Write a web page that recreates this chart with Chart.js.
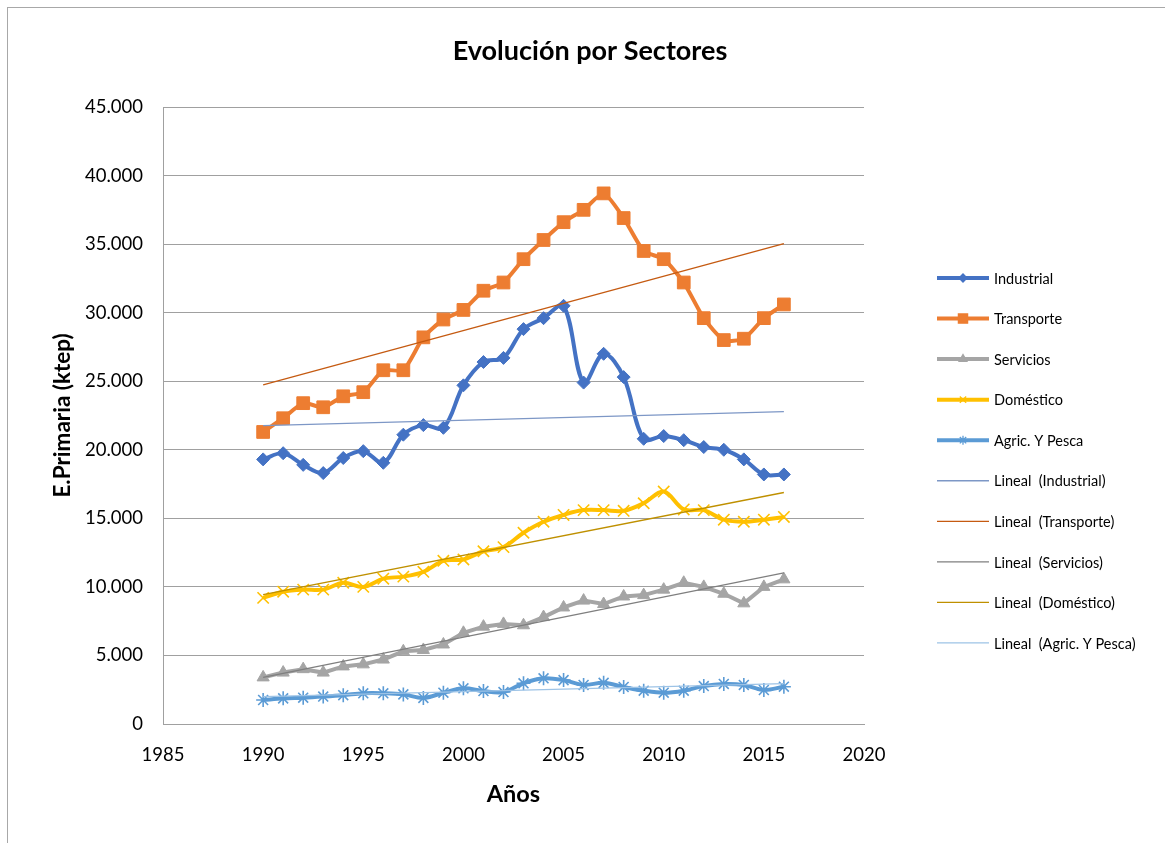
<!DOCTYPE html>
<html lang="es">
<head>
<meta charset="utf-8">
<title>Evolución por Sectores</title>
<script src="https://cdn.jsdelivr.net/npm/chart.js@4.4.1/dist/chart.umd.min.js"></script>
<style>
  html, body { margin: 0; padding: 0; background: #ffffff; }
  #wrap { position: relative; width: 1165px; height: 843px; }
  canvas { display: block; }
</style>
</head>
<body>
<div id="wrap"><canvas id="chart" width="1165" height="843"></canvas></div>
<script>
// Años de la serie
const years = [1990, 1991, 1992, 1993, 1994, 1995, 1996, 1997, 1998, 1999,
               2000, 2001, 2002, 2003, 2004, 2005, 2006, 2007, 2008, 2009,
               2010, 2011, 2012, 2013, 2014, 2015, 2016];

// Consumo de energía primaria por sector (ktep)
const industrial = [19300, 19750, 18900, 18300, 19400, 19900, 19050, 21100, 21800, 21600,
                    24700, 26400, 26700, 28800, 29600, 30500, 24900, 27000, 25300, 20800,
                    21000, 20700, 20200, 20000, 19300, 18200, 18200];
const transporte = [21300, 22300, 23400, 23100, 23900, 24200, 25800, 25800, 28200, 29500,
                    30200, 31600, 32200, 33900, 35300, 36600, 37500, 38700, 36900, 34500,
                    33900, 32200, 29600, 28000, 28100, 29600, 30600];
const servicios  = [3400, 3750, 4000, 3750, 4200, 4350, 4700, 5300, 5400, 5800,
                    6650, 7100, 7300, 7200, 7800, 8500, 9000, 8750, 9300, 9400,
                    9800, 10300, 10000, 9500, 8800, 10000, 10550];
const domestico  = [9200, 9650, 9800, 9800, 10300, 10000, 10600, 10750, 11100, 11900,
                    12000, 12600, 12900, 13950, 14750, 15250, 15600, 15600, 15550, 16100,
                    16950, 15650, 15600, 14900, 14750, 14900, 15100];
const agricPesca = [1750, 1870, 1920, 2000, 2100, 2240, 2240, 2160, 1900, 2280,
                    2600, 2400, 2330, 2970, 3330, 3200, 2850, 3000, 2700, 2430,
                    2280, 2430, 2770, 2920, 2850, 2480, 2720];

// Etiquetas
const chartTitle = 'Evolución por Sectores';
const xTitle = 'Años';
const yTitle = 'E.Primaria (ktep)';
const seriesNames = ['Industrial', 'Transporte', 'Servicios', 'Doméstico', 'Agric. Y Pesca'];
const trendPrefix = 'Lineal  ';

// Ejes
const xMin = 1985, xMax = 2020, xStep = 5;
const yMin = 0, yMax = 45000, yStep = 5000;

// Colores y marcadores
const seriesColors = ['#4472C4', '#ED7D31', '#A5A5A5', '#FFC000', '#5B9BD5'];
const trendColors  = ['#7D97C6', '#C55A11', '#7F7F7F', '#BF9000', '#9DC3E6'];
const markers = ['rectRot', 'rect', 'triangle', 'crossRot', 'star'];
const markerRadius = [6.5, 9, 7, 8, 7];
const legendMarkerRadius = [4, 6.5, 4.5, 4.5, 4.5];
const tensions = [0.35, 0.2, 0, 0.35, 0.35];

const FONT = 'Lato, "Open Sans", "Liberation Sans", sans-serif';

function toPoints(vals) {
  return vals.map((v, i) => ({ x: years[i], y: v }));
}

// Recta de regresión por mínimos cuadrados (tendencia lineal)
function linearTrend(vals) {
  const n = vals.length;
  let sx = 0, sy = 0, sxx = 0, sxy = 0;
  for (let i = 0; i < n; i++) {
    const x = years[i], y = vals[i];
    sx += x; sy += y; sxx += x * x; sxy += x * y;
  }
  const b = (n * sxy - sx * sy) / (n * sxx - sx * sx);
  const a = (sy - b * sx) / n;
  return [years[0], years[n - 1]].map(x => ({ x, y: a + b * x }));
}

const allSeries = [industrial, transporte, servicios, domestico, agricPesca];

const mainSets = allSeries.map((vals, i) => ({
  label: seriesNames[i],
  data: toPoints(vals),
  borderColor: seriesColors[i],
  backgroundColor: seriesColors[i],
  borderWidth: 4,
  tension: tensions[i],
  pointStyle: markers[i],
  pointRadius: markerRadius[i],
  pointHoverRadius: markerRadius[i],
  pointBorderWidth: (markers[i] === 'crossRot' || markers[i] === 'star') ? 1.6 : 1,
  pointBackgroundColor: seriesColors[i],
  pointBorderColor: seriesColors[i],
  legendRadius: legendMarkerRadius[i],
  order: 2
}));

const trendSets = allSeries.map((vals, i) => ({
  label: trendPrefix + '(' + seriesNames[i] + ')',
  data: linearTrend(vals),
  borderColor: trendColors[i],
  backgroundColor: trendColors[i],
  borderWidth: 1.3,
  pointRadius: 0,
  pointHoverRadius: 0,
  tension: 0,
  isTrend: true,
  order: 1
}));

// Marco, título y leyenda dibujados sobre el lienzo
const framePlugin = {
  id: 'framePlugin',
  beforeDraw(chart) {
    const ctx = chart.ctx;
    ctx.save();
    ctx.fillStyle = '#ffffff';
    ctx.fillRect(0, 0, chart.width, chart.height);
    ctx.strokeStyle = '#a8a8a8';
    ctx.lineWidth = 1;
    ctx.strokeRect(7.5, 7.5, chart.width + 20, chart.height + 20);
    ctx.restore();
  },
  afterDraw(chart) {
    const ctx = chart.ctx;
    ctx.save();
    // título
    ctx.fillStyle = '#000000';
    ctx.font = 'bold 27px ' + FONT;
    ctx.textAlign = 'center';
    ctx.textBaseline = 'middle';
    ctx.fillText(chartTitle, 590, 51);

    // leyenda
    const x0 = 937, x1 = 989, tx = 994, top = 278, gap = 40.55;
    chart.data.datasets.forEach((ds, i) => {
      const y = top + i * gap;
      ctx.strokeStyle = ds.borderColor;
      ctx.lineWidth = ds.isTrend ? 1.3 : 4;
      ctx.lineCap = 'butt';
      ctx.beginPath();
      ctx.moveTo(x0, y);
      ctx.lineTo(x1, y);
      ctx.stroke();
      if (!ds.isTrend) {
        ctx.fillStyle = ds.borderColor;
        ctx.strokeStyle = ds.borderColor;
        ctx.lineWidth = 1.3;
        Chart.helpers.drawPoint(ctx, {
          pointStyle: ds.pointStyle,
          radius: ds.legendRadius,
          borderWidth: 1.3,
          rotation: 0
        }, (x0 + x1) / 2, y);
      }
      ctx.fillStyle = '#000000';
      ctx.font = '14.5px ' + FONT;
      ctx.textAlign = 'left';
      ctx.textBaseline = 'middle';
      ctx.fillText(ds.label, tx, y + 1);
    });
    ctx.restore();
  }
};

new Chart(document.getElementById('chart'), {
  type: 'line',
  data: { datasets: [...mainSets, ...trendSets] },
  options: {
    responsive: false,
    animation: false,
    devicePixelRatio: 1,
    layout: { padding: { left: 0, top: 107, right: 301, bottom: 19 } },
    plugins: {
      legend: { display: false },
      title: { display: false },
      tooltip: { enabled: false }
    },
    scales: {
      x: {
        type: 'linear',
        min: xMin,
        max: xMax,
        afterFit(scale) { scale.height = 100; },
        ticks: {
          stepSize: xStep,
          color: '#000000',
          font: { family: FONT, size: 18.5 },
          padding: 20,
          maxRotation: 0,
          callback: v => String(v)
        },
        grid: { display: false, drawTicks: false },
        border: { display: true, color: '#a0a0a0', width: 1 },
        title: {
          display: true,
          text: xTitle,
          color: '#000000',
          font: { family: FONT, size: 23.5, weight: 'bold' },
          padding: { top: 0, bottom: 15 }
        }
      },
      y: {
        min: yMin,
        max: yMax,
        afterFit(scale) { scale.width = 163; },
        ticks: {
          stepSize: yStep,
          color: '#000000',
          font: { family: FONT, size: 18.5 },
          padding: 20,
          callback: v => v === 0 ? '0' : v.toLocaleString('de-DE')
        },
        grid: { color: '#a0a0a0', lineWidth: 1, drawTicks: false },
        border: { display: true, color: '#a0a0a0', width: 1 },
        title: {
          display: true,
          text: yTitle,
          color: '#000000',
          font: { family: FONT, size: 22.5, weight: 'bold' },
          padding: { top: 49, bottom: 0 }
        }
      }
    }
  },
  plugins: [framePlugin]
});
</script>
</body>
</html>
